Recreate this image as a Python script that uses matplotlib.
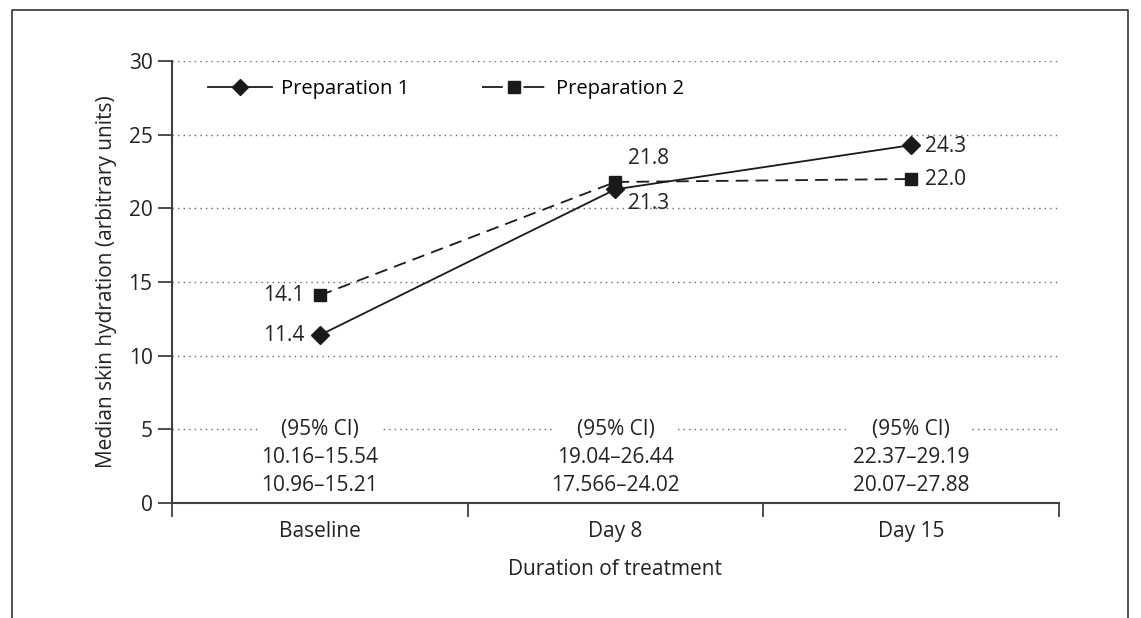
import numpy as np
import matplotlib.pyplot as plt
from matplotlib.lines import Line2D

plt.rcParams['font.family'] = ['Open Sans', 'DejaVu Sans']

days = ["Baseline", "Day 8", "Day 15"]
prep1 = [11.4, 21.3, 24.3]
prep2 = [14.1, 21.8, 22.0]
ci_prep1 = ["10.16\u201315.54", "19.04\u201326.44", "22.37\u201329.19"]
ci_prep2 = ["10.96\u201315.21", "17.566\u201324.02", "20.07\u201327.88"]

xpos = np.arange(len(days))
grey = '#404040'
txt = '#222222'
lc = '#1a1a1a'

fig = plt.figure(figsize=(11.41, 6.18), dpi=100)
ax = fig.add_axes([0.1507, 0.186, 0.7774, 0.715])

# outer frame (no bottom edge)
fig.add_artist(Line2D([0.0105, 0.0105, 0.9886, 0.9886], [0.0, 0.984, 0.984, 0.0],
                      transform=fig.transFigure, color='#333333', lw=1.2))

for yv in [5, 10, 15, 20, 25, 30]:
    ax.axhline(yv, color='#666666', linestyle=(0, (1, 3)), lw=1.0, zorder=0)

ax.plot(xpos, prep1, color=lc, lw=1.3, marker='D', markersize=9, zorder=3)
ax.plot(xpos, prep2, color=lc, lw=1.3, linestyle=(0, (7, 4)), marker='s',
        markersize=9, zorder=3)

fs = 15
# value labels
ax.annotate('%.1f' % prep1[0], (xpos[0], prep1[0]), xytext=(-11, 0), textcoords='offset points',
            ha='right', va='center', fontsize=fs, color=txt)
ax.annotate('%.1f' % prep2[0], (xpos[0], prep2[0]), xytext=(-11, 0), textcoords='offset points',
            ha='right', va='center', fontsize=fs, color=txt)
ax.annotate('%.1f' % prep2[1], (xpos[1], prep2[1]), xytext=(9, 17), textcoords='offset points',
            ha='left', va='center', fontsize=fs, color=txt)
ax.annotate('%.1f' % prep1[1], (xpos[1], prep1[1]), xytext=(9, -10), textcoords='offset points',
            ha='left', va='center', fontsize=fs, color=txt)
ax.annotate('%.1f' % prep1[2], (xpos[2], prep1[2]), xytext=(10, -1), textcoords='offset points',
            ha='left', va='center', fontsize=fs, color=txt)
ax.annotate('%.1f' % prep2[2], (xpos[2], prep2[2]), xytext=(10, 0), textcoords='offset points',
            ha='left', va='center', fontsize=fs, color=txt)

# CI text block
for i in range(len(days)):
    ax.text(xpos[i], 5, '(95% CI)', ha='center', va='center', fontsize=fs, color=txt,
            bbox=dict(facecolor='white', edgecolor='none', pad=16), zorder=2)
    ax.text(xpos[i], 3.1, ci_prep1[i], ha='center', va='center', fontsize=fs, color=txt)
    ax.text(xpos[i], 1.2, ci_prep2[i], ha='center', va='center', fontsize=fs, color=txt)

ax.set_xlim(-0.5, 2.5)
ax.set_ylim(0, 30)
ax.set_yticks([0, 5, 10, 15, 20, 25, 30])
ax.set_xticks([-0.5, 0.5, 1.5, 2.5])
ax.set_xticklabels([])
ax.set_xticks(xpos, minor=True)
ax.set_xticklabels(days, minor=True)
ax.tick_params(axis='x', which='minor', length=0, pad=13, labelsize=fs, labelcolor=txt)
ax.tick_params(axis='x', which='major', length=10, width=1.3, color=grey, direction='out')
ax.tick_params(axis='y', length=10, width=1.3, color=grey, labelsize=fs, labelcolor=txt, pad=4)

ax.set_xlabel('Duration of treatment', fontsize=fs, color=txt, labelpad=12)
ax.set_ylabel('Median skin hydration (arbitrary units)', fontsize=fs, color=txt, labelpad=8)

ax.spines['top'].set_visible(False)
ax.spines['right'].set_visible(False)
for s in ['left', 'bottom']:
    ax.spines[s].set_color(grey)
    ax.spines[s].set_linewidth(1.5)

# legend proxies so the dashed handle reads "-- marker --"
h1 = Line2D([], [], color=lc, lw=1.3, marker='D', markersize=8)
h2 = Line2D([], [], color=lc, lw=1.3, linestyle=(0, (11.5, 11.5)), marker='s', markersize=8)
ax.legend([h1, h2], ['Preparation 1', 'Preparation 2'], loc='upper left',
          bbox_to_anchor=(0.02, 1.0), ncol=2, frameon=False, fontsize=14.5,
          handlelength=3.2, columnspacing=3.6, handletextpad=0.45)

fig.savefig('out.png', dpi=100)
